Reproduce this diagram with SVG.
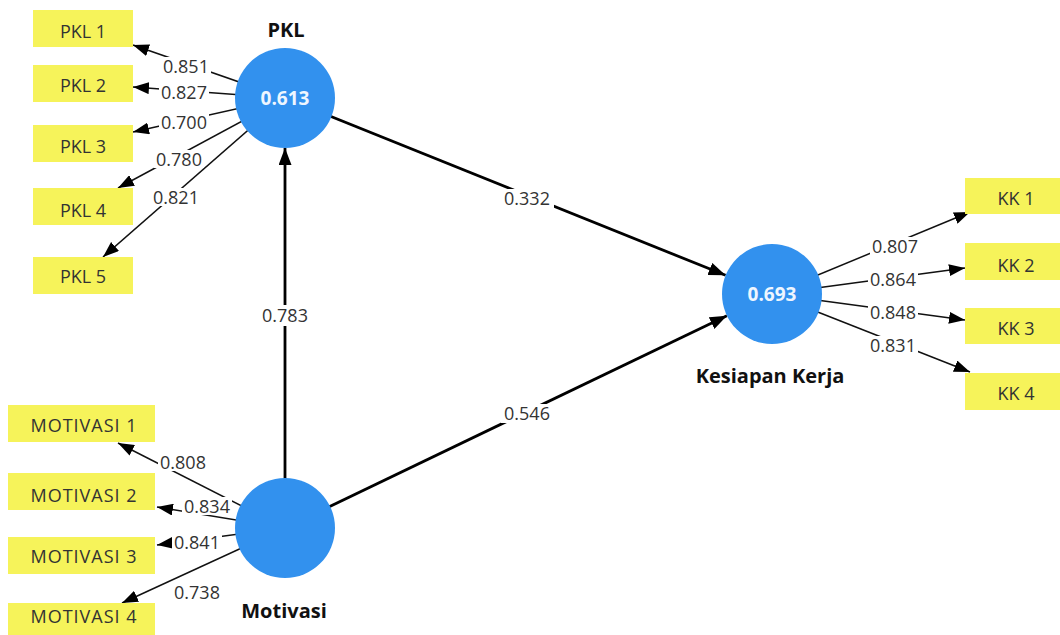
<svg xmlns="http://www.w3.org/2000/svg" width="1060" height="635" viewBox="0 0 1060 635">
<defs>
<marker id="ah" viewBox="0 0 16 12" refX="16" refY="6" markerWidth="16" markerHeight="12" markerUnits="userSpaceOnUse" orient="auto">
<path d="M0,0 L16,6 L0,12 Z" fill="#000"/>
</marker>
<marker id="ahs" viewBox="0 0 17 13" refX="17" refY="6.5" markerWidth="17" markerHeight="13" markerUnits="userSpaceOnUse" orient="auto">
<path d="M0,0 L17,6.5 L0,13 Z" fill="#000"/>
</marker>
</defs>
<style>
.ind{stroke:#111;stroke-width:1.5;fill:none;marker-end:url(#ah)}
.str{stroke:#000;stroke-width:2.8;fill:none;marker-end:url(#ahs)}
.lbg{fill:#fff}
.lbl{font-family:"Open Sans","Noto Sans",sans-serif;font-size:18px;fill:#333;text-anchor:middle}
.box{fill:#f6f35a}
.btx{font-family:"Open Sans","Noto Sans",sans-serif;font-size:18px;fill:#333;text-anchor:middle}
.mtx{letter-spacing:1px}
.lv{fill:#3291ee}
.lvv{font-family:"Open Sans","Noto Sans",sans-serif;font-size:19px;font-weight:bold;fill:#eef6ff;text-anchor:middle}
.lvn{font-family:"Open Sans","Noto Sans",sans-serif;font-size:20px;font-weight:bold;fill:#111;text-anchor:middle}
</style>
<rect width="1060" height="635" fill="#fff"/>
<g id="connectors">
<line class="ind" x1="285" y1="98" x2="133" y2="45"/>
<line class="ind" x1="285" y1="98" x2="133" y2="87"/>
<line class="ind" x1="285" y1="98" x2="133" y2="132"/>
<line class="ind" x1="285" y1="98" x2="118" y2="188"/>
<line class="ind" x1="285" y1="98" x2="103" y2="257"/>
<line class="ind" x1="285" y1="528" x2="118" y2="443"/>
<line class="ind" x1="285" y1="528" x2="157" y2="507"/>
<line class="ind" x1="285" y1="528" x2="157" y2="545"/>
<line class="ind" x1="285" y1="528" x2="122" y2="603"/>
<line class="ind" x1="772" y1="294" x2="970" y2="212"/>
<line class="ind" x1="772" y1="294" x2="965" y2="268"/>
<line class="ind" x1="772" y1="294" x2="965" y2="320"/>
<line class="ind" x1="772" y1="294" x2="970" y2="372"/>
<line class="str" x1="285" y1="98" x2="725.6" y2="275.3"/>
<line class="str" x1="285" y1="528" x2="726.9" y2="315.7"/>
<line class="str" x1="285" y1="528" x2="285" y2="148"/>
<g id="labels">
<rect class="lbg" x="161" y="57" width="50" height="18"/><text class="lbl" x="186" y="72.5">0.851</text>
<rect class="lbg" x="159" y="84" width="50" height="17"/><text class="lbl" x="184" y="99">0.827</text>
<rect class="lbg" x="159" y="114" width="50" height="17"/><text class="lbl" x="184" y="129">0.700</text>
<rect class="lbg" x="154" y="150" width="50" height="18"/><text class="lbl" x="179" y="166">0.780</text>
<rect class="lbg" x="151" y="188" width="50" height="18"/><text class="lbl" x="176" y="204">0.821</text>
<rect class="lbg" x="158" y="453" width="50" height="18"/><text class="lbl" x="183" y="469">0.808</text>
<rect class="lbg" x="182" y="497" width="50" height="18"/><text class="lbl" x="207" y="513">0.834</text>
<rect class="lbg" x="172" y="533" width="50" height="18"/><text class="lbl" x="197" y="549">0.841</text>
<rect class="lbg" x="172" y="583" width="50" height="18"/><text class="lbl" x="197" y="599">0.738</text>
<rect class="lbg" x="870" y="237" width="50" height="18"/><text class="lbl" x="895" y="253">0.807</text>
<rect class="lbg" x="868" y="270" width="50" height="18"/><text class="lbl" x="893" y="286">0.864</text>
<rect class="lbg" x="868" y="303" width="50" height="18"/><text class="lbl" x="893" y="319">0.848</text>
<rect class="lbg" x="868" y="336" width="50" height="18"/><text class="lbl" x="893" y="352">0.831</text>
<rect class="lbg" x="501" y="189" width="53" height="19"/><text class="lbl" x="527" y="205">0.332</text>
<rect class="lbg" x="501" y="404" width="53" height="19"/><text class="lbl" x="527" y="420">0.546</text>
<rect class="lbg" x="259" y="305" width="52" height="21"/><text class="lbl" x="285" y="322">0.783</text>
</g>
</g>
<g id="node-pkl">
<circle class="lv" cx="285" cy="98" r="50"/>
<text class="lvv" x="285" y="105">0.613</text>
<text class="lvn" x="286" y="37">PKL</text>
</g>
<g id="node-motivasi">
<circle class="lv" cx="285" cy="528" r="50"/>
<text class="lvn" x="284" y="618">Motivasi</text>
</g>
<g id="node-kk">
<circle class="lv" cx="772" cy="294" r="50"/>
<text class="lvv" x="772" y="301">0.693</text>
<text class="lvn" x="770" y="383">Kesiapan Kerja</text>
</g>
<g id="node-pkl1"><rect class="box" x="33" y="10" width="100" height="37"/><text class="btx" x="83" y="38">PKL 1</text></g>
<g id="node-pkl2"><rect class="box" x="33" y="65" width="100" height="37"/><text class="btx" x="83" y="92">PKL 2</text></g>
<g id="node-pkl3"><rect class="box" x="33" y="125" width="100" height="37"/><text class="btx" x="83" y="153">PKL 3</text></g>
<g id="node-pkl4"><rect class="box" x="33" y="188" width="100" height="37"/><text class="btx" x="83" y="217">PKL 4</text></g>
<g id="node-pkl5"><rect class="box" x="33" y="257" width="100" height="37"/><text class="btx" x="83" y="283">PKL 5</text></g>
<g id="node-mot1"><rect class="box" x="8" y="405" width="147" height="37"/><text class="btx mtx" x="84" y="432">MOTIVASI 1</text></g>
<g id="node-mot2"><rect class="box" x="8" y="473" width="147" height="37"/><text class="btx mtx" x="84" y="502">MOTIVASI 2</text></g>
<g id="node-mot3"><rect class="box" x="8" y="537" width="147" height="37"/><text class="btx mtx" x="84" y="563">MOTIVASI 3</text></g>
<g id="node-mot4"><rect class="box" x="8" y="603" width="147" height="37"/><text class="btx mtx" x="84" y="623">MOTIVASI 4</text></g>
<g id="node-kk1"><rect class="box" x="965" y="178" width="100" height="36"/><text class="btx" x="1016" y="205">KK 1</text></g>
<g id="node-kk2"><rect class="box" x="965" y="243" width="100" height="37"/><text class="btx" x="1016" y="272">KK 2</text></g>
<g id="node-kk3"><rect class="box" x="965" y="308" width="100" height="36"/><text class="btx" x="1016" y="335">KK 3</text></g>
<g id="node-kk4"><rect class="box" x="965" y="373" width="100" height="37"/><text class="btx" x="1016" y="400">KK 4</text></g>
</svg>
